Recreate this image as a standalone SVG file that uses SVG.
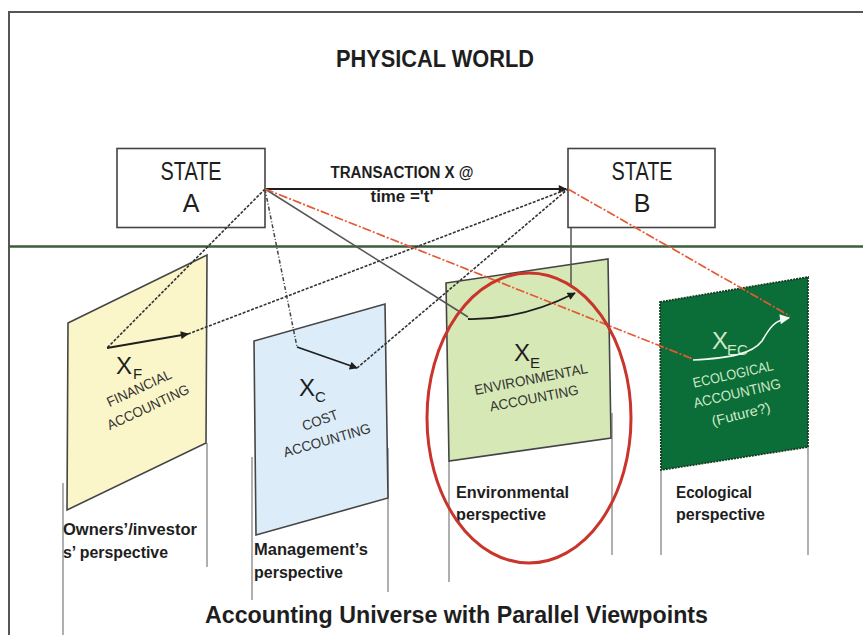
<svg xmlns="http://www.w3.org/2000/svg" width="863" height="635" viewBox="0 0 863 635">
  <defs>
    <marker id="headDark" viewBox="0 0 10 10" refX="9" refY="5" markerWidth="9" markerHeight="8" markerUnits="userSpaceOnUse" orient="auto">
      <path d="M0,0 L10,5 L0,10 z" fill="#1e1e1e"/>
    </marker>
    <marker id="headLight" viewBox="0 0 10 10" refX="9" refY="5" markerWidth="11" markerHeight="10" markerUnits="userSpaceOnUse" orient="auto">
      <path d="M0,0 L10,5 L0,10 z" fill="#f4fbf2"/>
    </marker>
  </defs>
  <style>
    text { font-family: "Liberation Sans", Arial, sans-serif; fill: #1e1e1e; }
    .frame { fill: none; stroke: #555; stroke-width: 2; }
    .horizon { stroke: #3d5c3d; stroke-width: 2.5; }
    .box { fill: #fff; stroke: #444; stroke-width: 1.6; }
    .pole { stroke: #9c9c9c; stroke-width: 1.6; }
    .panel { stroke: #454545; stroke-width: 1.6; }
    .title { font-size: 23px; font-weight: bold; }
    .state { font-size: 25px; }
    .trans { font-size: 16px; font-weight: bold; }
    .persp { font-size: 17px; font-weight: bold; }
    .sym { font-size: 24px; }
    .sub { font-size: 15px; }
    .ptext { font-size: 14px; fill: #333; }
    .eco { fill: #cfe9c8; }
    .solid { fill: none; stroke: #1e1e1e; stroke-width: 1.8; }
    .gray { fill: none; stroke: #555; stroke-width: 1.5; }
    .dash { fill: none; stroke: #333; stroke-width: 1.6; stroke-dasharray: 3 1.5; }
    .dashdot { fill: none; stroke: #444; stroke-width: 1.5; stroke-dasharray: 4 2 1 2; }
    .red { fill: none; stroke: #e55a34; stroke-width: 1.7; stroke-dasharray: 9 2 2 2; }
  </style>

  <rect width="863" height="635" fill="#fff"/>

  <!-- outer frame and ground line -->
  <path class="frame" d="M9,635 L9,12 L863,12"/>
  <line class="horizon" x1="9" y1="246.5" x2="863" y2="246.5"/>

  <text class="title" x="435" y="67" text-anchor="middle" textLength="198" lengthAdjust="spacingAndGlyphs">PHYSICAL WORLD</text>

  <!-- states of the physical world -->
  <g id="state-a">
    <rect class="box" x="117" y="148.5" width="148" height="79"/>
    <text class="state" x="191" y="180" text-anchor="middle" textLength="61" lengthAdjust="spacingAndGlyphs">STATE</text>
    <text class="state" x="191" y="212" text-anchor="middle">A</text>
  </g>
  <g id="state-b">
    <rect class="box" x="568" y="148.5" width="147" height="79"/>
    <text class="state" x="642" y="180" text-anchor="middle" textLength="61" lengthAdjust="spacingAndGlyphs">STATE</text>
    <text class="state" x="642" y="212" text-anchor="middle">B</text>
  </g>
  <g id="transaction-label">
    <text class="trans" x="402" y="178" text-anchor="middle" textLength="143" lengthAdjust="spacingAndGlyphs">TRANSACTION X @</text>
    <text class="trans" x="402" y="202" text-anchor="middle" textLength="63" lengthAdjust="spacingAndGlyphs" font-weight="normal">time ='t'</text>
  </g>

  <!-- financial accounting viewpoint -->
  <g id="financial">
    <line class="pole" x1="63" y1="483" x2="63" y2="635"/>
    <line class="pole" x1="207" y1="443" x2="207" y2="567"/>
    <polygon class="panel" fill="#fbf6c9" points="68,323 207,255 206,443 67,510"/>
    <text class="sym" x="116" y="374">X</text>
    <text class="sub" x="133" y="379">F</text>
    <text class="ptext" transform="rotate(-25 139 388)" x="139" y="393" text-anchor="middle" textLength="70" lengthAdjust="spacingAndGlyphs">FINANCIAL</text>
    <text class="ptext" transform="rotate(-25 148 407)" x="148" y="412" text-anchor="middle" textLength="89" lengthAdjust="spacingAndGlyphs">ACCOUNTING</text>
    <text class="persp" x="63" y="535" textLength="134" lengthAdjust="spacingAndGlyphs">Owners’/investor</text>
    <text class="persp" x="63" y="558" textLength="105" lengthAdjust="spacingAndGlyphs">s’ perspective</text>
  </g>

  <!-- cost accounting viewpoint -->
  <g id="cost">
    <line class="pole" x1="252" y1="457" x2="252" y2="600"/>
    <line class="pole" x1="388" y1="448" x2="388" y2="592"/>
    <polygon class="panel" fill="#dcedf9" points="254,341 385,304 388,498 256,535"/>
    <text class="sym" x="299" y="396">X</text>
    <text class="sub" x="315" y="402">C</text>
    <text class="ptext" transform="rotate(-20 320 420)" x="320" y="425" text-anchor="middle" textLength="37" lengthAdjust="spacingAndGlyphs">COST</text>
    <text class="ptext" transform="rotate(-16 327 440)" x="327" y="445" text-anchor="middle" textLength="90" lengthAdjust="spacingAndGlyphs">ACCOUNTING</text>
    <text class="persp" x="254" y="555" textLength="114" lengthAdjust="spacingAndGlyphs">Management’s</text>
    <text class="persp" x="254" y="578" textLength="89" lengthAdjust="spacingAndGlyphs">perspective</text>
  </g>

  <!-- environmental accounting viewpoint -->
  <g id="environmental">
    <line class="pole" x1="449" y1="461" x2="449" y2="582"/>
    <line class="pole" x1="612" y1="413" x2="612" y2="555"/>
    <polygon class="panel" fill="#d5e8b5" points="446,283 608,259 611,438 449,461"/>
    <text class="sym" x="514" y="361">X</text>
    <text class="sub" x="530" y="368">E</text>
    <text class="ptext" transform="rotate(-11 531 379)" x="531" y="384" text-anchor="middle" textLength="115" lengthAdjust="spacingAndGlyphs">ENVIRONMENTAL</text>
    <text class="ptext" transform="rotate(-11 534 398)" x="534" y="403" text-anchor="middle" textLength="90" lengthAdjust="spacingAndGlyphs">ACCOUNTING</text>
    <text class="persp" x="456" y="498" textLength="113" lengthAdjust="spacingAndGlyphs">Environmental</text>
    <text class="persp" x="456" y="520" textLength="90" lengthAdjust="spacingAndGlyphs">perspective</text>
  </g>

  <!-- ecological accounting viewpoint (future) -->
  <g id="ecological">
    <line class="pole" x1="661" y1="470" x2="661" y2="555"/>
    <line class="pole" x1="808" y1="447" x2="808" y2="555"/>
    <polygon fill="#0b6d37" stroke="#153d20" stroke-width="1.8" stroke-dasharray="2 1" points="660,302 808,277 808,447 661,470"/>
    <text class="sym eco" x="712" y="349">X</text>
    <text class="sub eco" x="727" y="355">EC</text>
    <text class="ptext eco" transform="rotate(-12.5 733 374)" x="733" y="379" text-anchor="middle" textLength="82" lengthAdjust="spacingAndGlyphs">ECOLOGICAL</text>
    <text class="ptext eco" transform="rotate(-13 737 393)" x="737" y="398" text-anchor="middle" textLength="89" lengthAdjust="spacingAndGlyphs">ACCOUNTING</text>
    <text class="ptext eco" transform="rotate(-14 741 414)" x="741" y="419" text-anchor="middle" textLength="60" lengthAdjust="spacingAndGlyphs">(Future?)</text>
    <text class="persp" x="676" y="498" textLength="76" lengthAdjust="spacingAndGlyphs">Ecological</text>
    <text class="persp" x="676" y="520" textLength="89" lengthAdjust="spacingAndGlyphs">perspective</text>
  </g>

  <!-- connectors -->
  <g id="connectors">
    <line class="solid" x1="265" y1="189" x2="566" y2="189" stroke="#333" marker-end="url(#headDark)"/>
    <!-- financial projection -->
    <line class="dash" x1="265" y1="189" x2="107" y2="348"/>
    <line class="solid" x1="107" y1="348" x2="188" y2="334" marker-end="url(#headDark)"/>
    <line class="dash" x1="188" y1="334" x2="568" y2="189"/>
    <!-- cost projection -->
    <line class="dashdot" x1="265" y1="189" x2="297" y2="347"/>
    <line class="solid" x1="297" y1="347" x2="357" y2="368" marker-end="url(#headDark)"/>
    <line class="dash" x1="357" y1="368" x2="568" y2="189"/>
    <!-- environmental projection -->
    <line class="gray" x1="265" y1="189" x2="468" y2="317"/>
    <line class="gray" x1="571" y1="228" x2="571" y2="286"/>
    <path class="solid" d="M468,319 Q522,320 575,293" marker-end="url(#headDark)"/>
    <!-- ecological projection -->
    <line class="red" x1="265" y1="189" x2="693" y2="359"/>
    <line class="red" x1="568" y1="189" x2="790" y2="316"/>
    <path fill="none" stroke="#f4fbf2" stroke-width="1.6" d="M693,360 C730,358 752,354 762,341 C770,327 775,320 789,318" marker-end="url(#headLight)"/>
  </g>

  <!-- highlight around the environmental viewpoint -->
  <g id="highlight">
    <ellipse cx="529" cy="418" rx="102" ry="145" fill="none" stroke="#c9342b" stroke-width="3"/>
  </g>

  <text class="title" x="205" y="623" textLength="503" lengthAdjust="spacingAndGlyphs">Accounting Universe with Parallel Viewpoints</text>
</svg>
